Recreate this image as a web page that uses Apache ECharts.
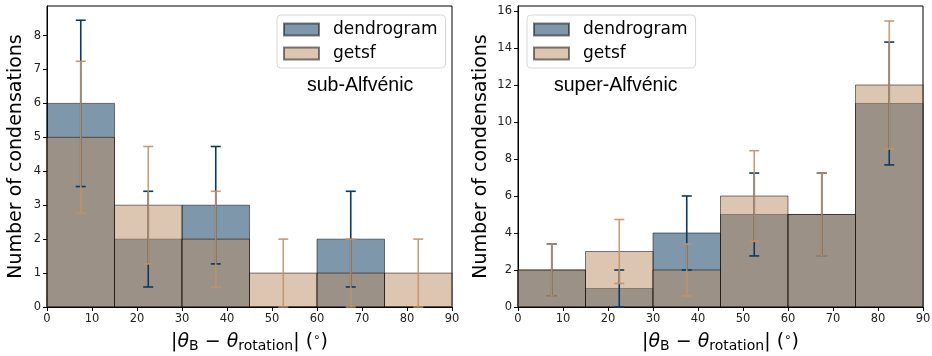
<!DOCTYPE html>
<html>
<head>
<meta charset="utf-8">
<script src="https://cdn.jsdelivr.net/npm/echarts@6/dist/echarts.min.js"></script>
<style>
html,body{margin:0;padding:0;background:#fff;}
#c{width:932px;height:356px;}
</style>
</head>
<body>
<div id="c"></div>
<script>
// bin edges (degrees)
const binEdges = [0, 15, 30, 45, 60, 75, 90];
const xTicks = [0, 10, 20, 30, 40, 50, 60, 70, 80, 90];

// sub-Alfvénic panel
const subDendro = [6, 2, 3, 0, 2, 0];
const subDendroErr = [2.45, 1.41, 1.73, 0, 1.41, 0];
const subGetsf = [5, 3, 2, 1, 1, 1];
const subGetsfErr = [2.24, 1.73, 1.41, 1.0, 1.0, 1.0];

// super-Alfvénic panel
const supDendro = [2, 1, 4, 5, 5, 11];
const supDendroErr = [1.41, 1.0, 2.0, 2.24, 2.24, 3.32];
const supGetsf = [2, 3, 2, 6, 5, 12];
const supGetsfErr = [1.41, 1.73, 1.41, 2.45, 2.24, 3.46];

const panelTitles = ['sub-Alfvénic', 'super-Alfvénic'];
const yMax = [8.87, 16.27];
const yInterval = [1, 2];

const DEN_FILL = 'rgba(0,47,87,0.5)';
const GET_FILL = 'rgba(185,139,99,0.5)';
const EDGE = 'rgba(0,0,0,0.5)';
const DEN_ERR = '#0b3a63';
const GET_ERR = 'rgba(190,148,104,0.9)';
const FONT = 'DejaVu Sans';

function histData(counts) {
  return counts.map((c, i) => [binEdges[i], binEdges[i + 1], c]);
}
function errData(counts, errs) {
  return counts.map((c, i) => [(binEdges[i] + binEdges[i + 1]) / 2, c - errs[i], c + errs[i], errs[i]]);
}

function histSeries(name, counts, idx, fill) {
  return {
    type: 'custom', name: name, xAxisIndex: idx, yAxisIndex: idx,
    itemStyle: {color: fill, borderColor: EDGE, borderWidth: 1},
    data: histData(counts),
    encode: {x: [0, 1], y: 2},
    renderItem: function (params, api) {
      const p0 = api.coord([api.value(0), 0]);
      const p1 = api.coord([api.value(1), api.value(2)]);
      return {
        type: 'rect',
        shape: {x: p0[0], y: p1[1], width: p1[0] - p0[0], height: p0[1] - p1[1]},
        style: {fill: fill, stroke: EDGE, lineWidth: 1}
      };
    }
  };
}
function errSeries(name, counts, errs, idx, color) {
  return {
    type: 'custom', name: name, xAxisIndex: idx, yAxisIndex: idx,
    data: errData(counts, errs),
    encode: {x: 0, y: [1, 2]},
    z: 5,
    renderItem: function (params, api) {
      if (api.value(3) <= 0) return null;
      const lo = api.coord([api.value(0), api.value(1)]);
      const hi = api.coord([api.value(0), api.value(2)]);
      const cw = 5;
      const st = {stroke: color, lineWidth: 1.6};
      return {
        type: 'group',
        children: [
          {type: 'line', shape: {x1: lo[0], y1: lo[1], x2: hi[0], y2: hi[1]}, style: st},
          {type: 'line', shape: {x1: lo[0] - cw, y1: lo[1], x2: lo[0] + cw, y2: lo[1]}, style: st},
          {type: 'line', shape: {x1: hi[0] - cw, y1: hi[1], x2: hi[0] + cw, y2: hi[1]}, style: st}
        ]
      };
    }
  };
}

const xNameRich = {
  t: {fontSize: 19, fontFamily: FONT, color: '#000'},
  i: {fontSize: 19, fontFamily: FONT, fontStyle: 'italic', color: '#000'},
  s: {fontSize: 14, fontFamily: FONT, color: '#000', padding: [8, 0, 0, 0]},
  d: {fontSize: 12, fontFamily: FONT, color: '#000', padding: [0, 0, 8, 0]}
};
const xName = '{t||}{i|θ}{s|B}{t| − }{i|θ}{s|rotation}{t|| (}{d|∘}{t|)}';

function xAxis(idx) {
  return {
    type: 'value', gridIndex: idx, min: 0, max: 90, interval: 10,
    name: xName, nameLocation: 'middle', nameGap: 24,
    nameTextStyle: {rich: xNameRich},
    axisLine: {show: true, onZero: false, lineStyle: {color: '#000', width: 1}},
    axisTick: {show: true, length: 4, lineStyle: {color: '#000'}},
    axisLabel: {fontFamily: FONT, fontSize: 11.5, color: '#222', margin: 6},
    splitLine: {show: false}
  };
}
function yAxis(idx) {
  return {
    type: 'value', gridIndex: idx, min: 0, max: yMax[idx], interval: yInterval[idx],
    name: 'Number of condensations', nameLocation: 'middle', nameGap: idx === 0 ? 21 : 27,
    nameTextStyle: {fontFamily: FONT, fontSize: 19, color: '#000'},
    axisLine: {show: true, lineStyle: {color: '#000', width: 1}},
    axisTick: {show: true, length: 4, lineStyle: {color: '#000'}},
    axisLabel: {fontFamily: FONT, fontSize: 11.5, color: '#222', margin: 6, showMaxLabel: false},
    splitLine: {show: false}
  };
}
function legend(idx, left) {
  return {
    data: ['dendrogram', 'getsf'],
    orient: 'vertical', left: left, top: 15,
    itemWidth: 35, itemHeight: 12, itemGap: 7,
    icon: 'rect',
    padding: [6, 8, 6, 6],
    borderColor: '#d8d8d8', borderWidth: 1, borderRadius: 4,
    backgroundColor: 'rgba(255,255,255,0.8)',
    selectedMode: false,
    textStyle: {fontFamily: FONT, fontSize: 17, color: '#000', padding: [0, 0, 0, 9]}
  };
}

const option = {
  animation: false,
  backgroundColor: '#fff',
  grid: [
    {left: 47, right: 480, top: 6, bottom: 49, outerBoundsMode: 'none', containLabel: false, show: true, borderColor: '#000', borderWidth: 1, backgroundColor: 'transparent'},
    {left: 518, right: 9, top: 6, bottom: 49, outerBoundsMode: 'none', containLabel: false, show: true, borderColor: '#000', borderWidth: 1, backgroundColor: 'transparent'}
  ],
  xAxis: [xAxis(0), xAxis(1)],
  yAxis: [yAxis(0), yAxis(1)],
  legend: [legend(0, 277), legend(1, 527)],
  title: [
    {text: panelTitles[0], left: 307, top: 76, textStyle: {fontFamily: 'Liberation Sans', fontSize: 19.5, fontWeight: 'normal', color: '#000'}, padding: 0},
    {text: panelTitles[1], left: 554, top: 76, textStyle: {fontFamily: 'Liberation Sans', fontSize: 19.5, fontWeight: 'normal', color: '#000'}, padding: 0}
  ],
  series: [
    histSeries('dendrogram', subDendro, 0, DEN_FILL),
    histSeries('getsf', subGetsf, 0, GET_FILL),
    errSeries('dendrogram err', subDendro, subDendroErr, 0, DEN_ERR),
    errSeries('getsf err', subGetsf, subGetsfErr, 0, GET_ERR),
    histSeries('dendrogram', supDendro, 1, DEN_FILL),
    histSeries('getsf', supGetsf, 1, GET_FILL),
    errSeries('dendrogram err', supDendro, supDendroErr, 1, DEN_ERR),
    errSeries('getsf err', supGetsf, supGetsfErr, 1, GET_ERR)
  ]
};

const chart = echarts.init(document.getElementById('c'), null, {renderer: 'canvas'});
chart.setOption(option);
</script>
</body>
</html>
